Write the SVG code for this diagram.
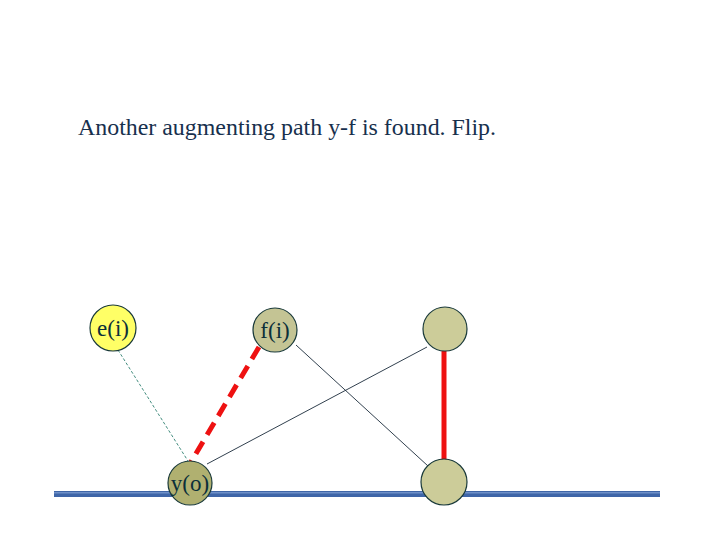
<svg xmlns="http://www.w3.org/2000/svg" width="720" height="540" viewBox="0 0 720 540">
<style>
.node{stroke:#1a3a3a;stroke-width:1.2}
.lbl{font-family:"Liberation Serif",serif;font-size:23px;fill:#0b2f3a;text-anchor:middle}
.thin{stroke:#1a2a3a;stroke-width:0.9;fill:none}
</style>
<rect width="720" height="540" fill="#ffffff"/>
<text x="78" y="135" font-family="Liberation Serif, serif" font-size="23.9" fill="#17304d">Another augmenting path y-f is found. Flip.</text>
<g id="baseline">
<rect x="54" y="491" width="606" height="6" fill="#3f66a8"/>
<rect x="54" y="492" width="606" height="1.5" fill="#6f90c8"/>
</g>
<g id="connectors">
<line x1="118" y1="350" x2="188" y2="461" stroke="#2f8070" stroke-width="0.9" stroke-dasharray="3,2"/>
<line x1="207" y1="464" x2="427" y2="347" class="thin"/>
<line x1="296" y1="345" x2="428" y2="466" class="thin"/>
<line x1="259" y1="347" x2="191" y2="462" stroke="#ee1111" stroke-width="5" stroke-dasharray="14,8"/>
<line x1="444" y1="351" x2="444" y2="461" stroke="#ee1111" stroke-width="5"/>
</g>
<g id="e"><circle class="node" cx="113" cy="328" r="23" fill="#ffff66"/><text class="lbl" x="113" y="336">e(i)</text></g>
<g id="f"><circle class="node" cx="275" cy="330" r="22" fill="#c4c494"/><text class="lbl" x="275" y="338">f(i)</text></g>
<g id="tr"><circle class="node" cx="445" cy="329" r="22" fill="#cccc99"/></g>
<g id="y"><circle class="node" cx="190" cy="483" r="22" fill="#b0b070"/><text class="lbl" x="190" y="491">y(o)</text></g>
<g id="br"><circle class="node" cx="444" cy="482" r="23" fill="#cccc99"/></g>
</svg>
